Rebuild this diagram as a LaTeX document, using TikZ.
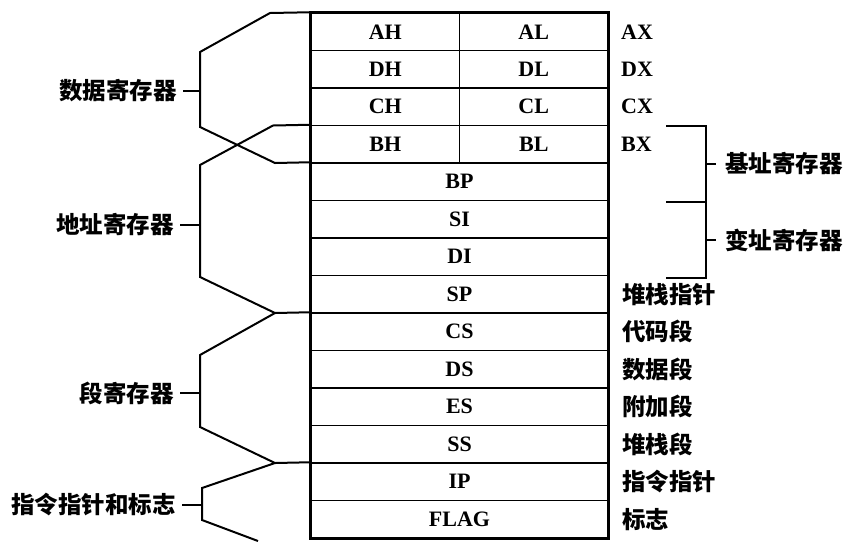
\documentclass[tikz,border=0pt]{standalone}
\usepackage{fontspec}
\setmainfont{Liberation Serif}
\newfontfamily\cjk{Noto Sans CJK SC}
\usetikzlibrary{calc}

\tikzset{
  cell/.style={draw, line width=1.5pt, minimum height=37.5pt, inner sep=0pt,
    font=\bfseries\fontsize{22}{22}\selectfont},
  half/.style={cell, minimum width=148.5pt},
  full/.style={cell, minimum width=297pt},
  reg/.style={anchor=west, inner sep=1pt, font=\bfseries\fontsize{22}{22}\selectfont},
  note/.style={inner sep=1pt, font=\cjk\bfseries\fontsize{23.5}{23.5}\selectfont},
  brace/.style={line width=2pt, line join=miter},
}

\begin{document}
\begin{tikzpicture}[x=1pt, y=-1pt]
  \useasboundingbox (0,0) rectangle (856,542);

  % register cells
  \node[half] (ah) at (385.25,31.75) {AH};
  \node[half] (al) at (533.75,31.75) {AL};
  \node[half] (dh) at (385.25,69.25) {DH};
  \node[half] (dl) at (533.75,69.25) {DL};
  \node[half] (ch) at (385.25,106.75) {CH};
  \node[half] (cl) at (533.75,106.75) {CL};
  \node[half] (bh) at (385.25,144.25) {BH};
  \node[half] (bl) at (533.75,144.25) {BL};
  \node[full] (bp) at (459.5,181.75) {BP};
  \node[full] (si) at (459.5,219.25) {SI};
  \node[full] (di) at (459.5,256.75) {DI};
  \node[full] (sp) at (459.5,294.25) {SP};
  \node[full] (cs) at (459.5,331.75) {CS};
  \node[full] (ds) at (459.5,369.25) {DS};
  \node[full] (es) at (459.5,406.75) {ES};
  \node[full] (ss) at (459.5,444.25) {SS};
  \node[full] (ip) at (459.5,481.75) {IP};
  \node[full] (flag) at (459.5,519.25) {FLAG};

  \draw[line width=2.6pt] (ah.north west) rectangle (flag.south east);

  % names on the right
  \node[reg] (ax) at (620,31.75) {AX};
  \node[reg] (dx) at (620,69.25) {DX};
  \node[reg] (cx) at (620,106.75) {CX};
  \node[reg] (bx) at (620,144.25) {BX};
  \node[note, anchor=west] (spn) at (621,294.25) {堆栈指针};
  \node[note, anchor=west] (csn) at (621,331.75) {代码段};
  \node[note, anchor=west] (dsn) at (621,369.25) {数据段};
  \node[note, anchor=west] (esn) at (621,406.75) {附加段};
  \node[note, anchor=west] (ssn) at (621,444.25) {堆栈段};
  \node[note, anchor=west] (ipn) at (621,481.75) {指令指针};
  \node[note, anchor=west] (flagn) at (621,519.25) {标志};

  % right brackets
  \coordinate (R1) at (666,125.5);
  \coordinate (R2) at (706,125.5);
  \coordinate (R3) at (706,202);
  \coordinate (R4) at (666,202);
  \coordinate (R5) at (706,278);
  \coordinate (R6) at (666,278);
  \coordinate (Rb) at (706,164);
  \coordinate (Ri) at (706,240);

  \draw[brace] (R1)--(R2)--(R3)--(R4);
  \draw[brace] (R3)--(R5)--(R6);

  \node[note, anchor=west, inner sep=9pt] (base) at (716,164) {基址寄存器};
  \node[note, anchor=west, inner sep=9pt] (index) at (716,240) {变址寄存器};
  \draw[brace] (Rb)--(base.west);
  \draw[brace] (Ri)--(index.west);

  % left brackets
  \coordinate (A1) at (270,13);
  \coordinate (A2) at (200,52);
  \coordinate (A3) at (200,127);
  \coordinate (A4) at (275,163);
  \coordinate (B1) at (273,125.5);
  \coordinate (B2) at (200,165);
  \coordinate (B3) at (200,277);
  \coordinate (B4) at (275,313);
  \coordinate (C2) at (200,355);
  \coordinate (C3) at (200,427);
  \coordinate (C4) at (275,463);
  \coordinate (D2) at (202,488);
  \coordinate (D3) at (202,520);
  \coordinate (D4) at (258,541);

  \draw[brace] (ah.north west)--(A1)--(A2)--(A3)--(A4)--(bp.north west);
  \draw[brace] (bh.north west)--(B1)--(B2)--(B3)--(B4)--(cs.north west);
  \draw[brace] (B4)--(C2)--(C3)--(C4)--(ip.north west);
  \draw[brace] (C4)--(D2)--(D3)--(D4);

  \node[note, anchor=east, inner sep=6pt] (datareg) at (183,91) {数据寄存器};
  \node[note, anchor=east, inner sep=6pt] (addrreg) at (180,225) {地址寄存器};
  \node[note, anchor=east, inner sep=6pt] (segreg) at (180,393) {段寄存器};
  \node[note, anchor=east, inner sep=6pt] (ipflag) at (182,505) {指令指针和标志};

  \draw[brace] (datareg.east)--(A2|-datareg.east);
  \draw[brace] (addrreg.east)--(B2|-addrreg.east);
  \draw[brace] (segreg.east)--(C2|-segreg.east);
  \draw[brace] (ipflag.east)--(D2|-ipflag.east);
\end{tikzpicture}
\end{document}
